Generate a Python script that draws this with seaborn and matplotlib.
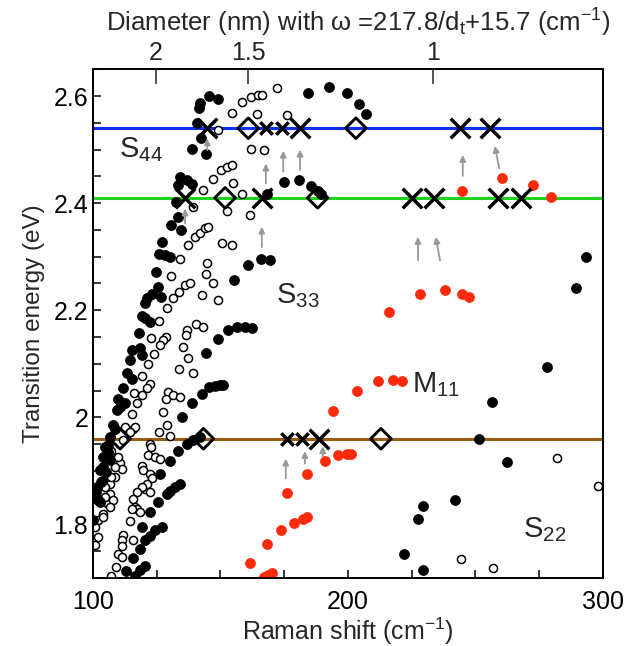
import matplotlib
matplotlib.use("Agg")
import matplotlib.pyplot as plt
import seaborn as sns
import pandas as pd
from matplotlib.ticker import MultipleLocator, FixedLocator, FuncFormatter

# ---------------- data ----------------
# semiconducting tubes (filled) : Raman shift (cm-1), transition energy (eV)
filled_w = [145.6, 149.1, 141.9, 141.7, 140.7, 142.4, 138.8, 144.2, 184.4, 192.5, 199.5, 204.3, 207.1,
            134.1, 133.5, 136.7, 138.7, 132.5, 133.5, 130.5, 134.4, 126.9, 126.0, 175.0, 180.9, 185.5,
            188.4, 189.5, 168.4,
            128.2, 130.2, 124.7, 126.5, 125.6, 123.0, 121.1, 120.4, 119.1, 120.4, 122.4, 118.2, 115.2,
            114.5, 118.4, 119.1, 113.2, 115.2, 111.9, 109.9, 112.5, 109.3, 110.6, 108.0, 108.6, 106.7,
            160.9, 165.8, 169.4, 155.3, 148.9, 153.1, 156.4, 159.6, 162.2, 144.2, 142.6, 145.6, 147.8,
            149.8, 151.1, 138.7, 134.8,
            104.7, 106.0, 104.0, 106.7, 102.7, 103.4, 101.5, 101.2, 102.1, 102.7, 100.1, 105.9, 103.9,
            105.2, 103.3,
            142.0, 139.3, 136.7, 133.5, 130.2, 126.3, 134.1, 132.2, 130.2, 128.9, 125.6, 122.4, 127.0,
            124.3, 122.4, 120.4, 119.1, 118.4, 115.8, 112.9, 120.4, 118.4, 116.5,
            293.3, 289.3, 277.9, 256.6, 251.4, 262.2, 242.0, 229.5, 227.6, 222.1, 229.5]
filled_e = [2.600, 2.594, 2.588, 2.577, 2.549, 2.521, 2.502, 2.491, 2.605, 2.617, 2.606, 2.585, 2.566,
            2.449, 2.434, 2.443, 2.436, 2.403, 2.374, 2.359, 2.350, 2.328, 2.306, 2.439, 2.443, 2.432,
            2.423, 2.418, 2.418,
            2.303, 2.300, 2.272, 2.225, 2.244, 2.231, 2.222, 2.213, 2.189, 2.185, 2.178, 2.158, 2.125,
            2.107, 2.129, 2.116, 2.082, 2.072, 2.054, 2.035, 2.026, 2.013, 2.019, 1.986, 1.978, 1.963,
            2.284, 2.295, 2.294, 2.257, 2.147, 2.163, 2.169, 2.168, 2.166, 2.120, 2.044, 2.056, 2.059,
            2.060, 2.060, 2.026, 2.001,
            1.945, 1.935, 1.926, 1.920, 1.901, 1.882, 1.870, 1.860, 1.845, 1.842, 1.808, 1.948, 1.907,
            1.898, 1.879,
            1.963, 1.957, 1.951, 1.937, 1.918, 1.894, 1.876, 1.870, 1.862, 1.857, 1.842, 1.824, 1.796,
            1.789, 1.779, 1.770, 1.796, 1.755, 1.738, 1.713, 1.723, 1.714, 1.704,
            2.300, 2.241, 2.094, 2.028, 1.959, 1.917, 1.845, 1.834, 1.810, 1.745, 1.714]

# semiconducting tubes (open)
open_w = [149.1, 154.4, 158.5, 162.0, 164.8, 166.3, 164.4, 162.0, 167.1, 147.2, 150.2, 152.4, 154.4,
          154.8, 143.3, 139.3, 152.4, 158.5, 161.6, 137.4, 140.0, 142.0, 143.9, 145.2, 150.4, 154.4,
          172.0, 175.9,
          134.1, 144.9, 144.2, 147.2, 130.5, 136.1, 138.0, 133.8, 131.5, 128.9, 142.6, 149.1, 126.0,
          122.7, 128.6, 127.5, 126.3, 123.9, 121.7, 140.2, 143.2, 136.7, 136.5, 135.4, 137.4, 133.8,
          139.3, 119.1, 122.4, 121.2, 119.3, 116.1, 117.4, 115.2, 129.3, 128.6, 131.5, 134.1, 127.6,
          128.9, 126.0, 130.2, 112.5, 115.8,
          116.5, 114.5, 111.9, 122.4, 122.7, 121.7, 124.3, 126.3, 119.1, 119.7, 122.4, 123.0, 110.6,
          111.3, 108.6, 106.7, 104.7, 106.7, 105.1, 106.0, 120.4, 121.1, 119.1, 117.1, 115.8, 122.4,
          116.5, 117.1, 118.4, 115.2, 104.0, 102.1, 100.8, 102.1, 100.8, 114.5, 111.9, 111.3, 111.3,
          115.8, 109.9, 111.3, 109.0, 106.9, 107.2, 109.8, 108.5, 107.2, 107.8, 106.5, 103.9, 104.6,
          281.8, 297.9, 244.2, 256.7]
open_e = [2.537, 2.569, 2.589, 2.598, 2.602, 2.602, 2.566, 2.502, 2.500, 2.446, 2.462, 2.468, 2.471,
          2.437, 2.424, 2.393, 2.386, 2.418, 2.378, 2.322, 2.337, 2.344, 2.353, 2.356, 2.325, 2.322,
          2.616, 2.565,
          2.295, 2.289, 2.267, 2.251, 2.264, 2.247, 2.250, 2.234, 2.222, 2.204, 2.228, 2.220, 2.180,
          2.149, 2.150, 2.144, 2.135, 2.119, 2.100, 2.174, 2.169, 2.164, 2.153, 2.131, 2.110, 2.091,
          2.083, 2.077, 2.063, 2.054, 2.041, 2.046, 2.026, 2.007, 2.048, 2.035, 2.041, 2.038, 2.010,
          1.985, 1.973, 1.966, 1.982, 1.979,
          1.982, 1.973, 1.957, 1.951, 1.945, 1.929, 1.926, 1.923, 1.910, 1.901, 1.895, 1.886, 1.914,
          1.904, 1.889, 1.876, 1.870, 1.857, 1.845, 1.839, 1.867, 1.876, 1.870, 1.860, 1.848, 1.860,
          1.832, 1.828, 1.823, 1.829, 1.820, 1.808, 1.795, 1.776, 1.761, 1.806, 1.780, 1.770, 1.760,
          1.770, 1.745, 1.739, 1.720, 1.704, 1.938, 1.926, 1.907, 1.889, 1.845, 1.832, 1.814, 1.851,
          1.924, 1.871, 1.736, 1.718]

# metallic tubes (M11, red)
metal_w = [216.2, 228.2, 238.0, 244.8, 247.5, 203.7, 211.6, 217.8, 221.1, 194.0, 191.0, 196.2, 199.7,
           201.1, 184.0, 176.2, 178.8, 182.2, 184.0, 173.7, 168.1, 161.6, 167.2, 168.7, 170.1,
           244.8, 260.3, 272.7, 279.5]
metal_e = [2.196, 2.231, 2.237, 2.231, 2.225, 2.049, 2.067, 2.070, 2.068, 2.011, 1.918, 1.929, 1.932,
           1.932, 1.895, 1.859, 1.803, 1.811, 1.814, 1.789, 1.764, 1.728, 1.702, 1.706, 1.710,
           2.423, 2.447, 2.434, 2.411]

# laser excitation energies (eV)
laser_e = [2.54, 2.41, 1.96]
laser_colors = ["#0a32f0", "#1ed21e", "#9c5c10"]

# observed RBM positions on each laser line
big_x_w = [144.8, 181.2, 243.9, 255.7, 136.1, 166.2, 225.0, 233.7, 258.9, 267.7, 188.7]
big_x_e = [2.54, 2.54, 2.54, 2.54, 2.41, 2.41, 2.41, 2.41, 2.41, 2.41, 1.96]
small_x_w = [167.8, 174.0, 175.9, 181.8]
small_x_e = [2.54, 2.54, 1.96, 1.96]
diamond_w = [160.9, 203.1, 151.8, 188.1, 143.3, 212.9, 110.6]
diamond_e = [2.54, 2.54, 2.41, 2.41, 1.96, 1.96, 1.96]

# shift arrows: start (w, E) -> end (w, E)
arrow_w0 = [144.8, 136.1, 166.2, 167.8, 174.6, 181.2, 227.5, 236.1, 245.0, 259.3, 175.6, 183.1, 190.1]
arrow_e0 = [2.499, 2.362, 2.318, 2.437, 2.459, 2.462, 2.293, 2.293, 2.451, 2.465, 1.886, 1.914, 1.927]
arrow_w1 = [144.8, 136.1, 166.2, 167.8, 174.6, 181.2, 227.4, 234.4, 245.0, 257.6, 175.6, 183.1, 190.1]
arrow_e1 = [2.521, 2.390, 2.356, 2.474, 2.498, 2.500, 2.337, 2.337, 2.490, 2.507, 1.923, 1.937, 1.946]

# top axis diameters (nm)
diam_ticks = [2, 1.5, 1]
x_ticks = [100, 200, 300]
y_ticks = [1.8, 2.0, 2.2, 2.4, 2.6]

# ---------------- style ----------------
sns.set_theme(style="ticks")
plt.rcParams["font.family"] = ["Liberation Sans", "DejaVu Sans"]
plt.rcParams["mathtext.default"] = "regular"
FS = 18

fig = plt.figure(figsize=(6.25, 6.46), dpi=100)
ax = fig.add_axes([0.1488, 0.1053, 0.816, 0.7874])

for e, c in zip(laser_e, laser_colors):
    ax.axhline(e, color=c, lw=2.2, zorder=1)

df_f = pd.DataFrame({"w": filled_w, "E": filled_e})
df_o = pd.DataFrame({"w": open_w, "E": open_e})
df_m = pd.DataFrame({"w": metal_w, "E": metal_e})

sns.scatterplot(data=df_o, x="w", y="E", ax=ax, marker="o", s=34, facecolor="white",
                edgecolor="black", linewidth=1.1, zorder=3)
sns.scatterplot(data=df_f, x="w", y="E", ax=ax, marker="o", s=52, color="black",
                edgecolor="black", linewidth=0.5, zorder=4)
sns.scatterplot(data=df_m, x="w", y="E", ax=ax, marker="o", s=52, color="#ff2a0a",
                edgecolor="#ff2a0a", linewidth=0.5, zorder=4)

sns.scatterplot(x=big_x_w, y=big_x_e, ax=ax, marker="x", s=200, color="black",
                linewidth=2.5, zorder=6)
sns.scatterplot(x=small_x_w, y=small_x_e, ax=ax, marker="x", s=80, color="black",
                linewidth=2.5, zorder=6)
ax.scatter(diamond_w, diamond_e, marker="D", s=110, facecolor="none", edgecolor="black",
           linewidth=2.1, zorder=6)

for a, b, c, d in zip(arrow_w0, arrow_e0, arrow_w1, arrow_e1):
    ax.annotate("", xy=(c, d), xytext=(a, b),
                arrowprops=dict(arrowstyle="-|>", color="#999999", lw=1.3,
                                mutation_scale=9, shrinkA=0, shrinkB=0), zorder=5)

ax.text(118.6, 2.50, "S$_{44}$", fontsize=21, ha="center", va="center")
ax.text(180.4, 2.228, "S$_{33}$", fontsize=21, ha="center", va="center")
ax.text(234.5, 2.061, "M$_{11}$", fontsize=21, ha="center", va="center")
ax.text(277.3, 1.791, "S$_{22}$", fontsize=21, ha="center", va="center")

ax.set_xlim(100, 300)
ax.set_ylim(1.7, 2.65)
ax.xaxis.set_major_locator(FixedLocator(x_ticks))
ax.xaxis.set_minor_locator(MultipleLocator(25))
ax.yaxis.set_major_locator(FixedLocator(y_ticks))
ax.yaxis.set_minor_locator(MultipleLocator(0.05))
ax.yaxis.set_major_formatter(FuncFormatter(lambda v, p: f"{v:g}"))
ax.tick_params(which="both", direction="in", length=6, width=1.1, labelsize=FS,
               top=False, right=False, colors="black")
ax.tick_params(axis="x", pad=9)
ax.set_xlabel("Raman shift (cm$^{-1}$)", fontsize=FS, labelpad=1)
ax.set_ylabel("Transition energy (eV)", fontsize=17.5, labelpad=6)
for s in ax.spines.values():
    s.set_linewidth(1.3)
    s.set_color("black")

ax2 = ax.twiny()
ax2.set_xlim(ax.get_xlim())
ax2.set_xticks([217.8 / d + 15.7 for d in diam_ticks])
ax2.set_xticklabels([f"{d:g}" for d in diam_ticks])
ax2.xaxis.set_minor_locator(FixedLocator([]))
ax2.tick_params(axis="x", direction="in", length=11, width=1.1, labelsize=FS, pad=3)
ax2.set_xlabel("Diameter (nm) with ω =217.8/d$_t$+15.7 (cm$^{-1}$)", fontsize=18.5, labelpad=7)
ax2.xaxis.label.set_x(0.52)
for s in ax2.spines.values():
    s.set_linewidth(1.3)
    s.set_color("black")

fig.savefig("out.png", dpi=100)
